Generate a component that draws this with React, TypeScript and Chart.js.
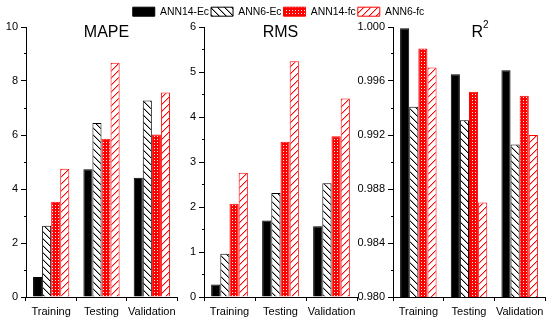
import React, { useEffect, useRef } from 'react';
import { Chart, registerables } from 'chart.js';

Chart.register(...registerables);

// ---------- data ----------
const categories = ['Training', 'Testing', 'Validation'];
const seriesNames = ['ANN14-Ec', 'ANN6-Ec', 'ANN14-fc', 'ANN6-fc'];

const mapeANN14Ec = [0.74, 4.73, 4.42];
const mapeANN6Ec = [2.64, 6.44, 7.28];
const mapeANN14fc = [3.53, 5.86, 6.02];
const mapeANN6fc = [4.75, 8.68, 7.57];

const rmsANN14Ec = [0.28, 1.7, 1.57];
const rmsANN6Ec = [0.96, 2.31, 2.53];
const rmsANN14fc = [2.07, 3.45, 3.57];
const rmsANN6fc = [2.76, 5.24, 4.41];

const r2ANN14Ec = [0.9999, 0.9965, 0.9968];
const r2ANN6Ec = [0.9941, 0.9931, 0.9913];
const r2ANN14fc = [0.9984, 0.9952, 0.9949];
const r2ANN6fc = [0.997, 0.987, 0.992];

const mapeTicks = { min: 0, max: 10, step: 1, labelEvery: 2 };
const rmsTicks = { min: 0, max: 6, step: 0.5, labelEvery: 1 };
const r2Ticks = { min: 0.98, max: 1.0, step: 0.002, labelEvery: 0.004 };

// ---------- styles ----------
const FONT = "Arial, 'Liberation Sans', sans-serif";
const RED = '#ff0000';

function makePattern(kind: string): CanvasPattern | string {
  const c = document.createElement('canvas');
  const ctx = c.getContext('2d');
  if (!ctx) return '#fff';
  if (kind === 'cross') {
    c.width = 3;
    c.height = 3;
    ctx.fillStyle = RED;
    ctx.fillRect(0, 0, 3, 3);
    ctx.fillStyle = '#ffffff';
    ctx.fillRect(1, 1, 1, 1);
  } else {
    const s = 7;
    c.width = s;
    c.height = s;
    ctx.fillStyle = '#ffffff';
    ctx.fillRect(0, 0, s, s);
    const col = kind === 'back' ? '0,0,0' : '255,0,0';
    for (let i = 0; i < s; i++) {
      const x = kind === 'back' ? i : s - 1 - i;
      ctx.fillStyle = `rgba(${col},1)`;
      ctx.fillRect(x, i, 1, 1);
      ctx.fillStyle = `rgba(${col},0.35)`;
      ctx.fillRect((x + 1) % s, i, 1, 1);
    }
  }
  return ctx.createPattern(c, 'repeat') || '#fff';
}

function buildDatasets(values: number[][], fills: (CanvasPattern | string)[]) {
  const borders = ['#000000', '#000000', RED, RED];
  return seriesNames.map((name, i) => ({
    label: name,
    data: values[i],
    backgroundColor: fills[i],
    borderColor: borders[i],
    borderWidth: 1,
    categoryPercentage: 0.72,
    barPercentage: 1,
  }));
}

function titlePlugin(text: string, dx: number, sup?: string) {
  return {
    id: 'panelTitle',
    afterDraw(chart: any) {
      const { ctx, chartArea } = chart;
      ctx.save();
      ctx.fillStyle = '#000';
      ctx.textBaseline = 'alphabetic';
      const cx = (chartArea.left + chartArea.right) / 2 + dx;
      const base = chartArea.top + 10;
      ctx.font = `16px ${FONT}`;
      if (!sup) {
        ctx.textAlign = 'center';
        ctx.fillText(text, cx, base);
      } else {
        ctx.textAlign = 'left';
        const w1 = ctx.measureText(text).width;
        ctx.font = `10px ${FONT}`;
        const w2 = ctx.measureText(sup).width;
        const x0 = cx - (w1 + w2) / 2;
        ctx.font = `16px ${FONT}`;
        ctx.fillText(text, x0, base);
        ctx.font = `10px ${FONT}`;
        ctx.fillText(sup, x0 + w1, chartArea.top + 1);
      }
      ctx.restore();
    },
  };
}

function panelConfig(
  values: number[][],
  fills: (CanvasPattern | string)[],
  tk: { min: number; max: number; step: number; labelEvery: number },
  decimals: number,
  axisX: number,
  rightEdge: number,
  title: string,
  dx: number,
  sup?: string
): any {
  const isMajor = (v: number) => {
    const r = (v - tk.min) / tk.labelEvery;
    return Math.abs(r - Math.round(r)) < 1e-6;
  };
  return {
    type: 'bar',
    data: { labels: categories, datasets: buildDatasets(values, fills) },
    options: {
      animation: false,
      responsive: false,
      events: [],
      layout: { padding: { left: 0, right: 550 - rightEdge, top: 27, bottom: 0 } },
      plugins: { legend: { display: false }, tooltip: { enabled: false } },
      scales: {
        x: {
          grid: {
            display: true,
            drawOnChartArea: false,
            offset: true,
            tickLength: 4,
            tickColor: '#000',
            color: '#000',
          },
          border: { display: true, color: '#000', width: 1 },
          ticks: {
            color: '#000',
            font: { family: FONT, size: 11 },
            padding: 4,
            maxRotation: 0,
            autoSkip: false,
          },
          afterFit: (s: any) => {
            s.height = 26;
          },
        },
        y: {
          min: tk.min,
          max: tk.max,
          grid: {
            display: true,
            drawOnChartArea: false,
            tickLength: 5,
            tickColor: '#000',
            color: '#000',
            tickBorderDash: (ctx: any) =>
              ctx.tick && isMajor(ctx.tick.value) ? [] : [0, 3, 2, 20],
          },
          border: { display: true, color: '#000', width: 1 },
          ticks: {
            stepSize: tk.step,
            maxTicksLimit: 40,
            color: '#000',
            font: { family: FONT, size: 11 },
            padding: 3,
            callback: (v: number) => (isMajor(v) ? v.toFixed(decimals) : ''),
          },
          afterFit: (s: any) => {
            s.width = axisX;
          },
        },
      },
    },
    plugins: [titlePlugin(title, dx, sup)],
  };
}

function legendConfig(fills: (CanvasPattern | string)[]): any {
  const borders = ['#000000', '#000000', RED, RED];
  return {
    type: 'bar',
    data: {
      labels: [],
      datasets: seriesNames.map((name, i) => ({
        label: name,
        data: [],
        backgroundColor: fills[i],
        borderColor: borders[i],
        borderWidth: 1,
      })),
    },
    options: {
      animation: false,
      responsive: false,
      events: [],
      layout: { padding: { top: 4.5, left: 7 } },
      scales: { x: { display: false }, y: { display: false } },
      plugins: {
        tooltip: { enabled: false },
        legend: {
          display: true,
          position: 'top',
          labels: {
            boxWidth: 22,
            boxHeight: 9,
            padding: 2,
            color: '#000',
            font: { family: FONT, size: 10.4 },
          },
        },
      },
    },
  };
}

export default function App() {
  const refMape = useRef<HTMLCanvasElement | null>(null);
  const refRms = useRef<HTMLCanvasElement | null>(null);
  const refR2 = useRef<HTMLCanvasElement | null>(null);
  const refLegend = useRef<HTMLCanvasElement | null>(null);

  useEffect(() => {
    const fills = ['#000000', makePattern('back'), makePattern('cross'), makePattern('fwd')];
    const charts: Chart[] = [];
    if (refMape.current)
      charts.push(
        new Chart(
          refMape.current,
          panelConfig(
            [mapeANN14Ec, mapeANN6Ec, mapeANN14fc, mapeANN6fc],
            fills,
            mapeTicks,
            0,
            26,
            177,
            'MAPE',
            5
          )
        )
      );
    if (refRms.current)
      charts.push(
        new Chart(
          refRms.current,
          panelConfig(
            [rmsANN14Ec, rmsANN6Ec, rmsANN14fc, rmsANN6fc],
            fills,
            rmsTicks,
            0,
            204,
            357,
            'RMS',
            0
          )
        )
      );
    if (refR2.current)
      charts.push(
        new Chart(
          refR2.current,
          panelConfig(
            [r2ANN14Ec, r2ANN6Ec, r2ANN14fc, r2ANN6fc],
            fills,
            r2Ticks,
            3,
            393,
            545,
            'R',
            11,
            '2'
          )
        )
      );
    if (refLegend.current) charts.push(new Chart(refLegend.current, legendConfig(fills)));
    return () => charts.forEach((c) => c.destroy());
  }, []);

  const cs: React.CSSProperties = { position: 'absolute', left: 0, top: 0, display: 'block' };
  return (
    <div style={{ position: 'fixed', left: 0, top: 0, width: 550, height: 323, background: '#fff' }}>
      <canvas ref={refMape} width={550} height={323} style={cs} />
      <canvas ref={refRms} width={550} height={323} style={cs} />
      <canvas ref={refR2} width={550} height={323} style={cs} />
      <canvas ref={refLegend} width={550} height={323} style={cs} />
    </div>
  );
}
